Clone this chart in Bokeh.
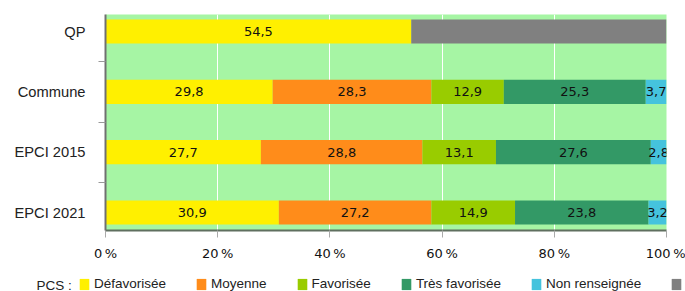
from bokeh.plotting import figure
from bokeh.layouts import column
from bokeh.models import (ColumnDataSource, Range1d, FixedTicker, Legend, LegendItem, Label)
from bokeh.core.properties import value
from bokeh.embed import file_html
from bokeh.resources import INLINE

# ---- data ----
categories = ["QP", "Commune", "EPCI 2015", "EPCI 2021"]
defavorisee = [54.5, 29.8, 27.7, 30.9]
moyenne = [0.0, 28.3, 28.8, 27.2]
favorisee = [0.0, 12.9, 13.1, 14.9]
tres_favorisee = [0.0, 25.3, 27.6, 23.8]
non_renseignee = [0.0, 3.7, 2.8, 3.2]
secret = [45.5, 0.0, 0.0, 0.0]
series_names = ["Défavorisée", "Moyenne", "Favorisée", "Très favorisée",
                "Non renseignée", "secret statistique"]
legend_title = "PCS :"
x_ticks = [0, 20, 40, 60, 80, 100]
x_tick_labels = ["0\u202f%", "20\u202f%", "40\u202f%", "60\u202f%", "80\u202f%", "100\u202f%"]

colors = ["#fff000", "#ff8c1a", "#99cc00", "#339966", "#45c3dd", "#808080"]
keys = ["s0", "s1", "s2", "s3", "s4", "s5"]
series = [defavorisee, moyenne, favorisee, tres_favorisee, non_renseignee, secret]

ypos = list(range(len(categories)))
data = {"y": ypos}
for k, s in zip(keys, series):
    data[k] = s
source = ColumnDataSource(data)

W = 685
p = figure(width=W, height=272, output_backend="svg", toolbar_location=None,
           x_range=Range1d(0, 100), y_range=Range1d(3.298, -0.282),
           min_border_left=105, min_border_right=19, min_border_top=14,
           min_border_bottom=42)
p.frame_align = False
p.background_fill_color = "#a6f5a4"
p.border_fill_color = "white"
p.outline_line_color = None

renderers = p.hbar_stack(keys, y="y", height=0.4, color=colors, line_color=None,
                         source=source)

# value labels
lx, ly, lt = [], [], []
for i in range(len(categories)):
    cum = 0.0
    for j, s in enumerate(series):
        v = s[i]
        if v > 0 and j < 5:
            lx.append(cum + v / 2)
            ly.append(ypos[i])
            lt.append(f"{v:.1f}".replace(".", ","))
        cum += v
p.text(x=lx, y=ly, text=lt, text_align="center", text_baseline="middle",
       text_font=value("DejaVu Sans"), text_font_size="13px", text_color="#111111")

# axes
p.xaxis.ticker = FixedTicker(ticks=x_ticks)
p.xaxis.major_label_overrides = dict(zip(x_ticks, x_tick_labels))
p.xaxis.major_label_text_font = "DejaVu Sans"
p.xaxis.major_label_text_font_size = "13px"
p.xaxis.major_label_text_color = "#111111"
p.xaxis.major_label_standoff = 8
p.xaxis.major_tick_out = 7
p.xaxis.major_tick_in = 0
p.xaxis.minor_tick_out = 0
p.xaxis.minor_tick_in = 0
p.xaxis.major_tick_line_color = "#aaaaaa"
p.xaxis.axis_line_color = "#5f6f5f"
p.xaxis.axis_line_width = 2

p.yaxis.ticker = FixedTicker(ticks=ypos, minor_ticks=[0.5, 1.5, 2.5])
p.yaxis.major_label_overrides = dict(zip(ypos, categories))
p.yaxis.major_label_text_font = "Liberation Sans"
p.yaxis.major_label_text_font_size = "14.7px"
p.yaxis.major_label_text_color = "#222222"
p.yaxis.major_label_standoff = 13
p.yaxis.major_tick_out = 0
p.yaxis.major_tick_in = 0
p.yaxis.minor_tick_out = 7
p.yaxis.minor_tick_in = 0
p.yaxis.minor_tick_line_color = "#999999"
p.yaxis.axis_line_color = "#707070"
p.yaxis.axis_line_width = 2

p.xgrid.grid_line_color = "white"
p.xgrid.grid_line_width = 1
p.ygrid.grid_line_color = None

# legend in its own strip below the chart
lg = figure(width=W, height=19, output_backend="svg", toolbar_location=None,
            x_range=Range1d(0, 1), y_range=Range1d(0, 1),
            x_axis_location=None, y_axis_location=None,
            min_border_left=0, min_border_right=0, min_border_top=0,
            min_border_bottom=0)
lg.frame_align = False
lg.outline_line_color = None
lg.grid.grid_line_color = None
lg.background_fill_color = "white"
# zero-size bars that only provide the legend swatches
swatches = [lg.hbar(y=[0], left=[0], right=[0], height=0, color=c, line_color=None)
            for c in colors]

items = [LegendItem(label=n, renderers=[r]) for n, r in zip(series_names, swatches)]
legend = Legend(items=items, orientation="horizontal", location=(78, 0),
                padding=0, margin=0, spacing=29, label_standoff=4,
                glyph_width=12, glyph_height=14, label_height=14,
                label_text_font="Liberation Sans", label_text_font_size="13.5px",
                label_text_color="#222222", background_fill_alpha=0,
                border_line_color=None)
lg.add_layout(legend, "center")
lg.add_layout(Label(x=36, y=6.5, x_units="screen", y_units="screen", text=legend_title,
                    text_font="Liberation Sans", text_font_size="13.5px",
                    text_color="#222222", text_baseline="middle"))

layout = column(p, lg, spacing=0)
open("out.html", "w").write(file_html(layout, INLINE))
